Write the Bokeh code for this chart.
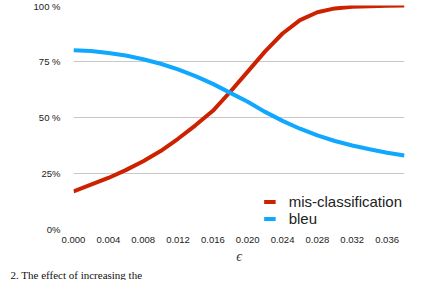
from bokeh.plotting import figure
from bokeh.models import FixedTicker, Range1d, Legend, LegendItem, Title
from bokeh.embed import file_html
from bokeh.resources import INLINE

eps = [0.000, 0.002, 0.004, 0.006, 0.008, 0.010, 0.012, 0.014, 0.016, 0.018,
       0.020, 0.022, 0.024, 0.026, 0.028, 0.030, 0.032, 0.034, 0.036, 0.038]
misclass = [17, 20, 23, 26.5, 30.5, 35, 40.5, 46.5, 53, 61.5,
            70.5, 79.5, 87.5, 93.5, 97, 98.7, 99.4, 99.7, 99.9, 100]
bleu = [80, 79.7, 78.8, 77.7, 76, 74, 71.5, 68.5, 65, 61,
        57, 52.5, 48.5, 45, 42, 39.5, 37.5, 35.8, 34.3, 33]
x_ticks = [0.000, 0.004, 0.008, 0.012, 0.016, 0.020, 0.024, 0.028, 0.032, 0.036]
y_ticks = [0, 25, 50, 75, 100]
y_tick_labels = ["0%", "25%", "50 %", "75 %", "100 %"]
caption = "2.  The effect of increasing the"

p = figure(width=414, height=280, output_backend="svg", toolbar_location=None,
           x_range=Range1d(0, 0.038), y_range=Range1d(0, 100),
           min_border_left=73, min_border_right=10, min_border_top=5, min_border_bottom=0)
p.outline_line_color = None
p.background_fill_color = "white"

r1 = p.line(eps, misclass, line_color="#cc2200", line_width=4)
r2 = p.line(eps, bleu, line_color="#10a8ff", line_width=4)

p.xgrid.visible = False
p.ygrid.grid_line_color = "#c8c8c8"
p.ygrid.grid_line_width = 1

p.xaxis.ticker = FixedTicker(ticks=x_ticks)
p.xaxis.major_label_overrides = {t: f"{t:.3f}" for t in x_ticks}
p.yaxis.ticker = FixedTicker(ticks=y_ticks)
p.yaxis.major_label_overrides = {t: l for t, l in zip(y_ticks, y_tick_labels)}

for ax in (p.xaxis[0], p.yaxis[0]):
    ax.axis_line_color = None
    ax.major_tick_line_color = None
    ax.minor_tick_line_color = None
    ax.major_label_text_font = "Liberation Sans"
    ax.major_label_text_font_size = "9.5px"
    ax.major_label_text_color = "#222222"
p.xaxis.major_label_standoff = 1
p.yaxis.major_label_standoff = 7

p.xaxis.axis_label = "ϵ"
p.xaxis.axis_label_text_font = "Liberation Serif"
p.xaxis.axis_label_text_font_style = "italic"
p.xaxis.axis_label_text_font_size = "14px"
p.xaxis.axis_label_standoff = 3

legend = Legend(items=[LegendItem(label="mis-classification", renderers=[r1]),
                       LegendItem(label="bleu", renderers=[r2])],
                location="bottom_right")
legend.background_fill_alpha = 0
legend.border_line_color = None
legend.label_text_font = "Liberation Sans"
legend.label_text_font_size = "15px"
legend.label_text_color = "#222222"
legend.glyph_width = 12
legend.glyph_height = 15
legend.label_height = 15
legend.spacing = 0
legend.padding = 0
legend.margin = 2
legend.label_standoff = 13
p.add_layout(legend)

cap = Title(text=caption, align="left", offset=-63, text_font="Liberation Serif",
            text_font_size="11px", text_font_style="normal", text_color="#111111",
            standoff=0)
p.add_layout(cap, "below")

open("out.html", "w").write(file_html(p, INLINE))
